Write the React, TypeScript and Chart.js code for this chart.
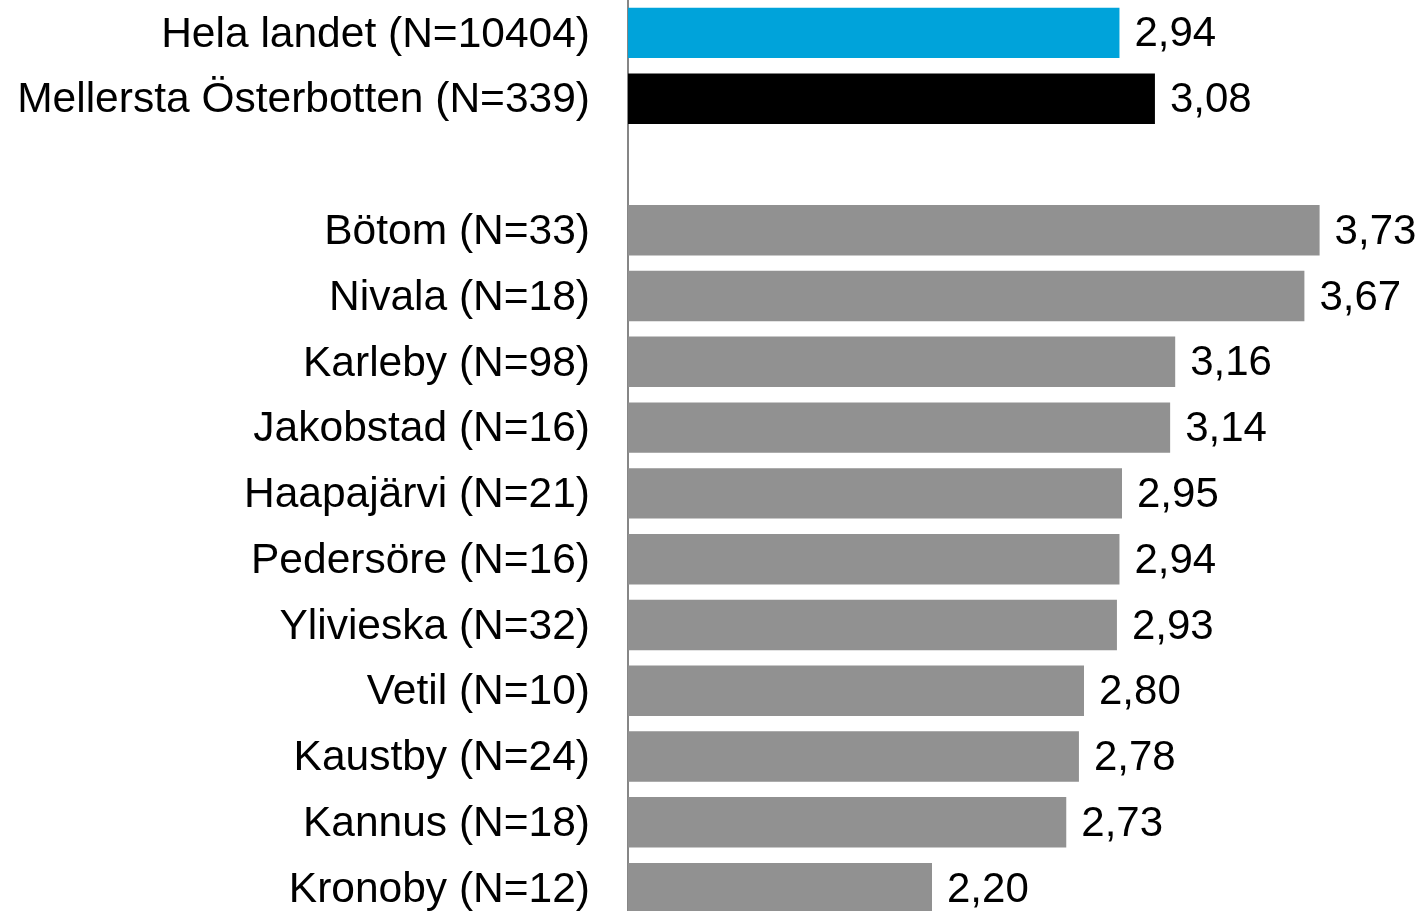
import React, { useEffect, useRef } from "react";
import { Chart, registerables } from "chart.js";

Chart.register(...registerables);

const categories: string[] = [
  "Hela landet (N=10404)",
  "Mellersta Österbotten (N=339)",
  "",
  "Bötom (N=33)",
  "Nivala (N=18)",
  "Karleby (N=98)",
  "Jakobstad (N=16)",
  "Haapajärvi (N=21)",
  "Pedersöre (N=16)",
  "Ylivieska (N=32)",
  "Vetil (N=10)",
  "Kaustby (N=24)",
  "Kannus (N=18)",
  "Kronoby (N=12)",
];

const values: (number | null)[] = [
  2.94, 3.08, null, 3.73, 3.67, 3.16, 3.14, 2.95, 2.94, 2.93, 2.8, 2.78, 2.73, 2.2,
];

const barColors: string[] = [
  "#00A3DA",
  "#000000",
  "#919191",
  "#919191",
  "#919191",
  "#919191",
  "#919191",
  "#919191",
  "#919191",
  "#919191",
  "#919191",
  "#919191",
  "#919191",
  "#919191",
];

const FONT = "'Liberation Sans', Arial, sans-serif";

const valueLabels = {
  id: "valueLabels",
  afterDatasetsDraw(chart: any) {
    const ctx = chart.ctx;
    const meta = chart.getDatasetMeta(0);
    ctx.save();
    ctx.font = `42px ${FONT}`;
    ctx.fillStyle = "#000000";
    ctx.textAlign = "left";
    ctx.textBaseline = "middle";
    meta.data.forEach((bar: any, i: number) => {
      const v = values[i];
      if (v === null || v === undefined) return;
      ctx.fillText(v.toFixed(2).replace(".", ","), bar.x + 15, bar.y + 2);
    });
    ctx.restore();
  },
};

export default function App() {
  const ref = useRef<HTMLCanvasElement | null>(null);
  useEffect(() => {
    if (!ref.current) return;
    const chart = new Chart(ref.current, {
      type: "bar",
      data: {
        labels: categories,
        datasets: [
          {
            data: values,
            backgroundColor: barColors,
            borderWidth: 0,
            categoryPercentage: 1,
            barPercentage: 0.767,
          },
        ],
      },
      options: {
        indexAxis: "y",
        animation: false,
        responsive: false,
        maintainAspectRatio: false,
        layout: { padding: { left: 0, right: 37, top: 0, bottom: 0 } },
        plugins: {
          legend: { display: false },
          tooltip: { enabled: false },
          title: { display: false },
        },
        scales: {
          x: {
            display: false,
            min: 1,
            max: 4,
          },
          y: {
            grid: { display: false, drawTicks: false },
            border: { display: true, color: "#868686", width: 2 },
            ticks: {
              color: "#000000",
              padding: 38,
              labelOffset: 2,
              font: { family: FONT, size: 42.5 },
              autoSkip: false,
            },
            afterFit(scale: any) {
              scale.width = 628;
              scale.paddingTop = 0;
              scale.paddingBottom = 0;
            },
          },
        },
      },
      plugins: [valueLabels],
    });
    return () => chart.destroy();
  }, []);
  return (
    <div style={{ position: "absolute", left: 0, top: 0, width: 1425, height: 921, background: "#fff" }}>
      <canvas ref={ref} width={1425} height={921} style={{ display: "block" }} />
    </div>
  );
}
